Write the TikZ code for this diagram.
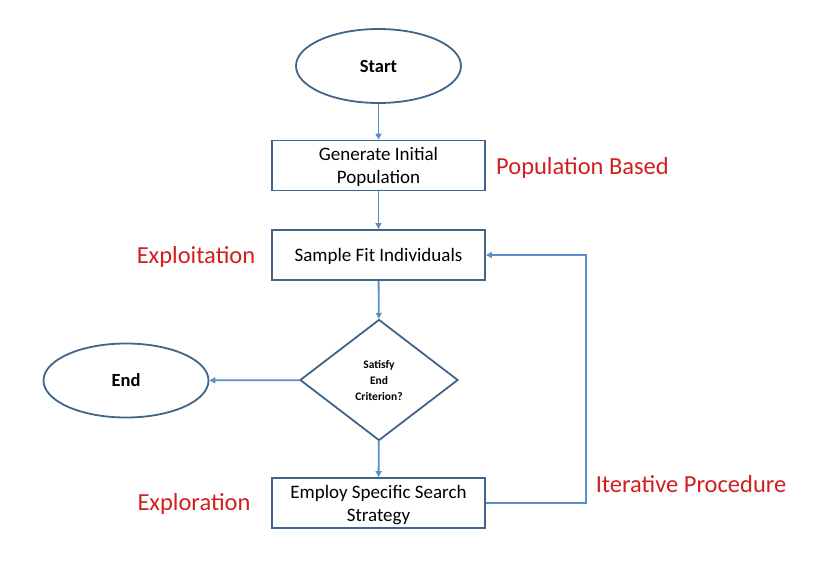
\documentclass[tikz,border=0pt]{standalone}
\usepackage{fontspec}
\setmainfont{Carlito}
\usetikzlibrary{shapes.geometric,arrows.meta}
\definecolor{boxline}{HTML}{41658A}
\definecolor{arrowline}{HTML}{5B8EC4}
\definecolor{lblred}{HTML}{D01F1F}
\begin{document}
\begin{tikzpicture}[x=1pt,y=-1pt,
  procbox/.style={draw=boxline,line width=1.8pt,minimum width=213pt,minimum height=50pt,align=center,font=\fontsize{19}{23}\selectfont,inner sep=2pt,text depth=0pt},
  oval/.style={draw=boxline,line width=1.8pt,ellipse,minimum width=165pt,minimum height=74pt,font=\fontsize{18.5}{22}\selectfont\bfseries,inner sep=0pt},
  decision/.style={draw=boxline,line width=1.8pt,diamond,minimum width=158pt,minimum height=121pt,inner sep=0pt,align=center,font=\fontsize{11.5}{16}\selectfont\bfseries},
  flow/.style={draw=arrowline,line width=1.8pt,-{Triangle[length=6pt,width=6pt]}},
  redlabel/.style={text=lblred,font=\fontsize{24.5}{28}\selectfont,inner sep=0pt}]
\useasboundingbox (0,0) rectangle (816,560);
\node[oval] (start) at (378.5,66) {Start};
\node[procbox] (gen) at (378.5,165.5) {Generate Initial\\Population};
\node[procbox] (sample) at (378.5,255) {Sample Fit Individuals};
\node[decision] (dec) at (379,380) {Satisfy\\End\\Criterion?};
\node[oval] (end) at (126,380.5) {End};
\node[procbox] (employ) at (378.5,503) {Employ Specific Search\\Strategy};
\coordinate (c1) at (586,503);
\coordinate (c2) at (586,255);
\draw[flow] (start) -- (gen);
\draw[flow] (gen) -- (sample);
\draw[flow] (sample) -- (dec);
\draw[flow] (dec) -- (end);
\draw[flow] (dec) -- (employ);
\draw[flow] (employ.east) -- (c1) -- (c2) -- (sample.east);
\node[redlabel] (pop) at (582.5,168) {Population Based};
\node[redlabel] (exploit) at (196,257) {Exploitation};
\node[redlabel] (explore) at (194,504) {Exploration};
\node[redlabel] (iter) at (691,484) {Iterative Procedure};
\end{tikzpicture}
\end{document}
